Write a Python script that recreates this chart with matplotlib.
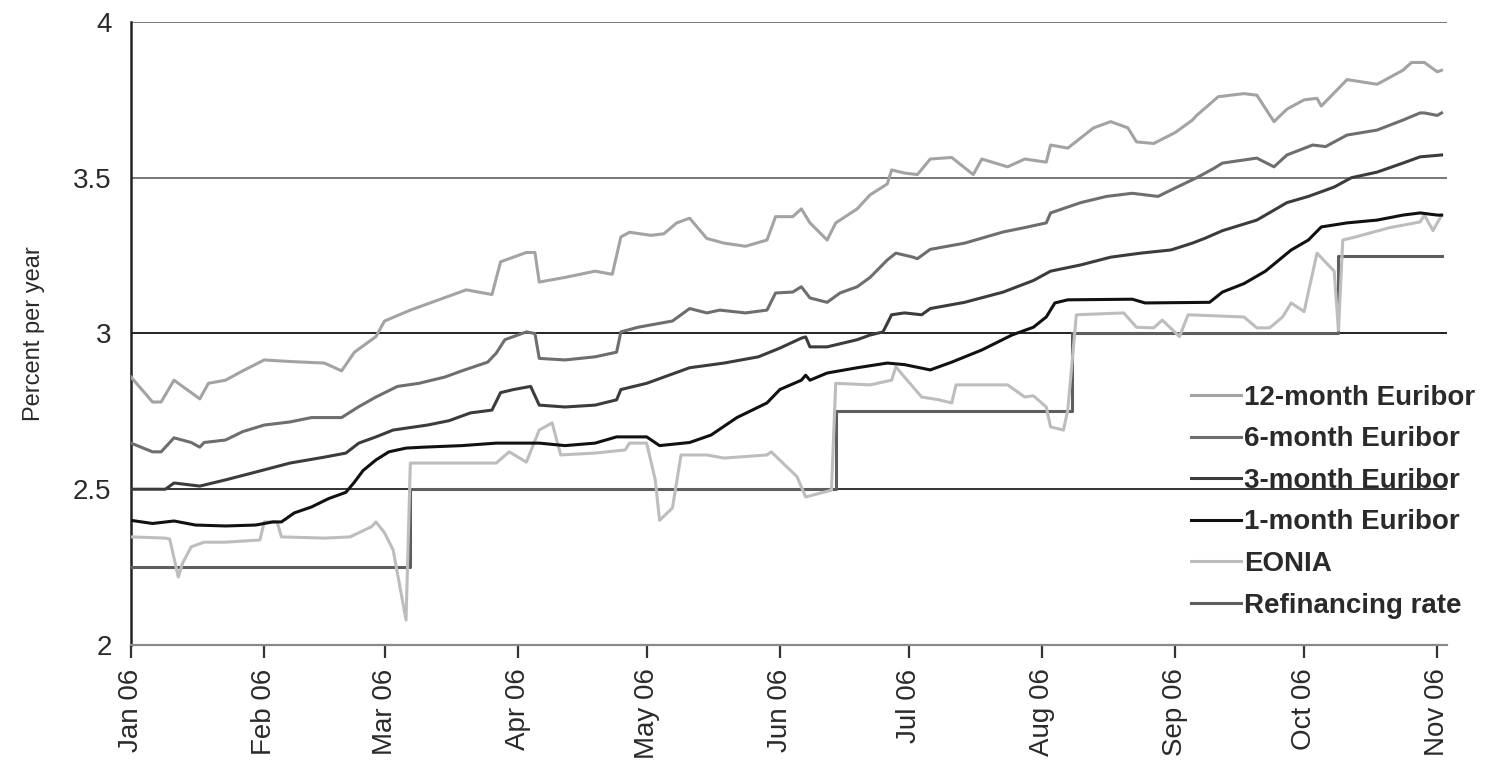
import matplotlib.pyplot as plt
import matplotlib.dates as mdates
import pandas as pd

plt.rcParams['font.family'] = ['Liberation Sans', 'DejaVu Sans']

# Money market rates, 2006 (percent per year)
eur12_dates = ['2006-01-01', '2006-01-06', '2006-01-08', '2006-01-11', '2006-01-14', '2006-01-17',
               '2006-01-19', '2006-01-23', '2006-01-27', '2006-02-01', '2006-02-07', '2006-02-15',
               '2006-02-19', '2006-02-22', '2006-02-27', '2006-03-01', '2006-03-07', '2006-03-16',
               '2006-03-20', '2006-03-26', '2006-03-28', '2006-04-03', '2006-04-05', '2006-04-06',
               '2006-04-12', '2006-04-19', '2006-04-23', '2006-04-25', '2006-04-27', '2006-05-02',
               '2006-05-05', '2006-05-08', '2006-05-11', '2006-05-15', '2006-05-19', '2006-05-24',
               '2006-05-29', '2006-05-31', '2006-06-04', '2006-06-06', '2006-06-08', '2006-06-12',
               '2006-06-14', '2006-06-19', '2006-06-22', '2006-06-26', '2006-06-27', '2006-06-30',
               '2006-07-03', '2006-07-06', '2006-07-11', '2006-07-16', '2006-07-18', '2006-07-24',
               '2006-07-28', '2006-08-02', '2006-08-03', '2006-08-07', '2006-08-13', '2006-08-17',
               '2006-08-21', '2006-08-23', '2006-08-27', '2006-09-01', '2006-09-05', '2006-09-06',
               '2006-09-11', '2006-09-17', '2006-09-20', '2006-09-24', '2006-09-27', '2006-10-01',
               '2006-10-04', '2006-10-05', '2006-10-11', '2006-10-18', '2006-10-24', '2006-10-26',
               '2006-10-29', '2006-11-01', '2006-11-02']
eur12 = [2.86, 2.78, 2.78, 2.85, 2.82, 2.79, 2.84, 2.85, 2.88, 2.915, 2.91, 2.905,
         2.88, 2.94, 2.99, 3.04, 3.075, 3.12, 3.14, 3.125, 3.23, 3.26, 3.26, 3.165,
         3.18, 3.20, 3.19, 3.31, 3.325, 3.315, 3.32, 3.355, 3.37, 3.305, 3.29, 3.28,
         3.30, 3.375, 3.375, 3.40, 3.355, 3.30, 3.355, 3.40, 3.445, 3.48, 3.525, 3.515,
         3.51, 3.56, 3.565, 3.51, 3.56, 3.535, 3.56, 3.55, 3.605, 3.595, 3.66, 3.68,
         3.66, 3.615, 3.61, 3.645, 3.685, 3.70, 3.76, 3.77, 3.765, 3.68, 3.72, 3.75,
         3.755, 3.73, 3.815, 3.80, 3.845, 3.87, 3.87, 3.84, 3.845]

eur6_dates = ['2006-01-01', '2006-01-06', '2006-01-08', '2006-01-11', '2006-01-15', '2006-01-17',
              '2006-01-18', '2006-01-23', '2006-01-27', '2006-02-01', '2006-02-07', '2006-02-12',
              '2006-02-19', '2006-02-23', '2006-02-27', '2006-03-04', '2006-03-09', '2006-03-15',
              '2006-03-19', '2006-03-25', '2006-03-27', '2006-03-29', '2006-04-03', '2006-04-05',
              '2006-04-06', '2006-04-12', '2006-04-19', '2006-04-24', '2006-04-25', '2006-04-29',
              '2006-05-03', '2006-05-07', '2006-05-11', '2006-05-15', '2006-05-18', '2006-05-24',
              '2006-05-29', '2006-05-31', '2006-06-04', '2006-06-06', '2006-06-08', '2006-06-12',
              '2006-06-15', '2006-06-19', '2006-06-22', '2006-06-26', '2006-06-28', '2006-07-02',
              '2006-07-03', '2006-07-06', '2006-07-14', '2006-07-23', '2006-07-28', '2006-08-02',
              '2006-08-03', '2006-08-10', '2006-08-16', '2006-08-22', '2006-08-28', '2006-09-01',
              '2006-09-06', '2006-09-10', '2006-09-12', '2006-09-20', '2006-09-24', '2006-09-27',
              '2006-10-03', '2006-10-06', '2006-10-11', '2006-10-18', '2006-10-24', '2006-10-28',
              '2006-10-29', '2006-11-01', '2006-11-02']
eur6 = [2.648, 2.62, 2.62, 2.665, 2.65, 2.635, 2.65, 2.658, 2.685, 2.706, 2.716, 2.73,
        2.73, 2.765, 2.796, 2.83, 2.84, 2.86, 2.88, 2.908, 2.937, 2.98, 3.005, 3.0,
        2.92, 2.915, 2.925, 2.94, 3.005, 3.02, 3.03, 3.04, 3.08, 3.066, 3.075, 3.066,
        3.075, 3.13, 3.133, 3.15, 3.114, 3.10, 3.13, 3.15, 3.18, 3.236, 3.258, 3.245,
        3.24, 3.27, 3.29, 3.326, 3.34, 3.355, 3.387, 3.42, 3.44, 3.45, 3.44, 3.467,
        3.50, 3.53, 3.547, 3.563, 3.535, 3.573, 3.605, 3.60, 3.637, 3.653, 3.685, 3.708,
        3.708, 3.70, 3.708]

eur3_dates = ['2006-01-01', '2006-01-09', '2006-01-11', '2006-01-17', '2006-01-23', '2006-01-30',
              '2006-02-07', '2006-02-15', '2006-02-20', '2006-02-23', '2006-02-27', '2006-03-03',
              '2006-03-11', '2006-03-16', '2006-03-21', '2006-03-26', '2006-03-28', '2006-03-31',
              '2006-04-04', '2006-04-06', '2006-04-12', '2006-04-19', '2006-04-24', '2006-04-25',
              '2006-05-01', '2006-05-05', '2006-05-09', '2006-05-11', '2006-05-19', '2006-05-27',
              '2006-06-01', '2006-06-06', '2006-06-07', '2006-06-08', '2006-06-12', '2006-06-19',
              '2006-06-22', '2006-06-25', '2006-06-27', '2006-06-30', '2006-07-04', '2006-07-06',
              '2006-07-14', '2006-07-23', '2006-07-30', '2006-08-03', '2006-08-10', '2006-08-17',
              '2006-08-24', '2006-08-31', '2006-09-05', '2006-09-08', '2006-09-12', '2006-09-20',
              '2006-09-27', '2006-10-02', '2006-10-08', '2006-10-12', '2006-10-18', '2006-10-24',
              '2006-10-28', '2006-11-02']
eur3 = [2.50, 2.50, 2.52, 2.51, 2.53, 2.555, 2.584, 2.603, 2.616, 2.648, 2.668, 2.69,
        2.706, 2.72, 2.745, 2.754, 2.81, 2.82, 2.83, 2.77, 2.764, 2.77, 2.787, 2.82,
        2.84, 2.86, 2.88, 2.89, 2.905, 2.925, 2.953, 2.985, 2.989, 2.957, 2.957, 2.98,
        2.995, 3.005, 3.06, 3.066, 3.06, 3.08, 3.10, 3.133, 3.17, 3.20, 3.22, 3.245,
        3.258, 3.268, 3.29, 3.306, 3.33, 3.364, 3.42, 3.44, 3.47, 3.50, 3.518, 3.547,
        3.567, 3.573]

eur1_dates = ['2006-01-01', '2006-01-06', '2006-01-11', '2006-01-16', '2006-01-23', '2006-01-30',
              '2006-02-03', '2006-02-05', '2006-02-08', '2006-02-12', '2006-02-16', '2006-02-20',
              '2006-02-22', '2006-02-24', '2006-02-27', '2006-03-02', '2006-03-06', '2006-03-10',
              '2006-03-19', '2006-03-27', '2006-04-06', '2006-04-12', '2006-04-19', '2006-04-24',
              '2006-05-01', '2006-05-04', '2006-05-11', '2006-05-16', '2006-05-22', '2006-05-29',
              '2006-06-01', '2006-06-06', '2006-06-07', '2006-06-08', '2006-06-12', '2006-06-19',
              '2006-06-26', '2006-06-30', '2006-07-06', '2006-07-11', '2006-07-18', '2006-07-25',
              '2006-07-30', '2006-08-02', '2006-08-04', '2006-08-07', '2006-08-22', '2006-08-25',
              '2006-09-09', '2006-09-12', '2006-09-17', '2006-09-22', '2006-09-28', '2006-10-02',
              '2006-10-05', '2006-10-11', '2006-10-18', '2006-10-24', '2006-10-28', '2006-11-01',
              '2006-11-02']
eur1 = [2.40, 2.39, 2.398, 2.385, 2.382, 2.385, 2.395, 2.395, 2.424, 2.443, 2.47, 2.49,
        2.523, 2.56, 2.594, 2.62, 2.632, 2.635, 2.64, 2.648, 2.648, 2.64, 2.648, 2.668,
        2.668, 2.64, 2.65, 2.674, 2.73, 2.777, 2.82, 2.85, 2.866, 2.85, 2.873, 2.89,
        2.905, 2.90, 2.883, 2.908, 2.947, 2.995, 3.02, 3.053, 3.098, 3.108, 3.11, 3.098,
        3.10, 3.133, 3.16, 3.20, 3.268, 3.30, 3.342, 3.355, 3.364, 3.38, 3.387, 3.38,
        3.38]

eonia_dates = ['2006-01-01', '2006-01-09', '2006-01-10', '2006-01-12', '2006-01-13', '2006-01-15',
               '2006-01-18', '2006-01-23', '2006-01-31', '2006-02-01', '2006-02-04', '2006-02-05',
               '2006-02-15', '2006-02-21', '2006-02-26', '2006-02-27', '2006-03-01', '2006-03-03',
               '2006-03-06', '2006-03-07', '2006-03-27', '2006-03-30', '2006-04-03', '2006-04-06',
               '2006-04-09', '2006-04-11', '2006-04-19', '2006-04-26', '2006-04-27', '2006-05-01',
               '2006-05-03', '2006-05-04', '2006-05-07', '2006-05-09', '2006-05-15', '2006-05-19',
               '2006-05-29', '2006-05-30', '2006-06-05', '2006-06-07', '2006-06-13', '2006-06-14',
               '2006-06-22', '2006-06-27', '2006-06-28', '2006-06-30', '2006-07-04', '2006-07-08',
               '2006-07-11', '2006-07-12', '2006-07-24', '2006-07-28', '2006-07-30', '2006-08-02',
               '2006-08-03', '2006-08-06', '2006-08-07', '2006-08-09', '2006-08-20', '2006-08-23',
               '2006-08-27', '2006-08-29', '2006-09-02', '2006-09-04', '2006-09-17', '2006-09-20',
               '2006-09-23', '2006-09-26', '2006-09-28', '2006-10-01', '2006-10-04', '2006-10-08',
               '2006-10-09', '2006-10-10', '2006-10-13', '2006-10-21', '2006-10-28', '2006-10-29',
               '2006-10-31', '2006-11-02']
eonia = [2.347, 2.343, 2.34, 2.218, 2.263, 2.315, 2.33, 2.33, 2.337, 2.395, 2.395, 2.347,
         2.343, 2.347, 2.38, 2.395, 2.36, 2.305, 2.08, 2.584, 2.584, 2.62, 2.587, 2.69,
         2.713, 2.61, 2.616, 2.626, 2.648, 2.648, 2.53, 2.40, 2.44, 2.61, 2.61, 2.60,
         2.61, 2.62, 2.54, 2.475, 2.497, 2.84, 2.835, 2.85, 2.893, 2.86, 2.796, 2.787,
         2.777, 2.835, 2.835, 2.796, 2.80, 2.764, 2.70, 2.69, 2.754, 3.06, 3.066, 3.02,
         3.018, 3.043, 2.99, 3.06, 3.053, 3.018, 3.018, 3.053, 3.098, 3.07, 3.258, 3.20,
         3.01, 3.30, 3.31, 3.34, 3.358, 3.38, 3.33, 3.38]

# ECB main refinancing rate, drawn as steps from each change date
refi_dates = ['2006-01-01', '2006-03-07', '2006-06-14', '2006-08-08', '2006-10-09', '2006-11-02']
refi = [2.25, 2.50, 2.75, 3.00, 3.25, 3.25]

month_ticks = pd.date_range('2006-01-01', '2006-11-01', freq='MS')

fig = plt.figure(figsize=(15.01, 7.63), dpi=100)
ax = fig.add_axes([0.0873, 0.1547, 0.8767, 0.8165])

lw = 2.2
ax.plot(pd.to_datetime(refi_dates), refi, color='#5e5e5e', lw=lw, drawstyle='steps-post',
        label='Refinancing rate', zorder=3)
ax.plot(pd.to_datetime(eonia_dates), eonia, color='#bdbdbd', lw=lw, label='EONIA', zorder=3)
ax.plot(pd.to_datetime(eur12_dates), eur12, color='#a3a3a3', lw=lw, label='12-month Euribor', zorder=4)
ax.plot(pd.to_datetime(eur6_dates), eur6, color='#6e6e6e', lw=lw, label='6-month Euribor', zorder=4)
ax.plot(pd.to_datetime(eur3_dates), eur3, color='#3c3c3c', lw=lw, label='3-month Euribor', zorder=4)
ax.plot(pd.to_datetime(eur1_dates), eur1, color='#111111', lw=lw, label='1-month Euribor', zorder=5)

ax.set_ylim(2, 4)
ax.set_xlim(pd.Timestamp('2006-01-01'), pd.Timestamp('2006-11-03 06:00'))
ax.set_yticks([2, 2.5, 3, 3.5, 4])
ax.set_yticklabels(['2', '2.5', '3', '3.5', '4'])
for yv, c in [(2.5, '#333333'), (3.0, '#222222'), (3.5, '#777777'), (4.0, '#777777')]:
    ax.axhline(yv, color=c, lw=1.4, zorder=1)

ax.set_xticks(month_ticks)
ax.xaxis.set_major_formatter(mdates.DateFormatter('%b %y'))
plt.setp(ax.get_xticklabels(), rotation=90)

for side in ['top', 'right']:
    ax.spines[side].set_visible(False)
ax.spines['left'].set_color('#222222')
ax.spines['left'].set_linewidth(1.8)
ax.spines['bottom'].set_color('#8a8a8a')
ax.spines['bottom'].set_linewidth(1.6)

ax.tick_params(axis='y', length=0, pad=14, labelsize=20, labelcolor='#2a2a2a')
ax.tick_params(axis='x', length=9, width=1.6, color='#333333', pad=8, labelsize=20,
               labelcolor='#2a2a2a')
ax.set_ylabel('Percent per year', fontsize=17, color='#2a2a2a', labelpad=20)

handles, labels = ax.get_legend_handles_labels()
order = ['12-month Euribor', '6-month Euribor', '3-month Euribor', '1-month Euribor',
         'EONIA', 'Refinancing rate']
h = [handles[labels.index(n)] for n in order]
leg = ax.legend(h, order, loc='upper left', bbox_to_anchor=(0.795, 0.44), frameon=False,
                handlelength=1.8, handletextpad=0.1, labelspacing=0.56, borderpad=0,
                prop={'weight': 'bold', 'size': 20})
for t in leg.get_texts():
    t.set_color('#2a2a2a')

fig.savefig('out.png', dpi=100)
